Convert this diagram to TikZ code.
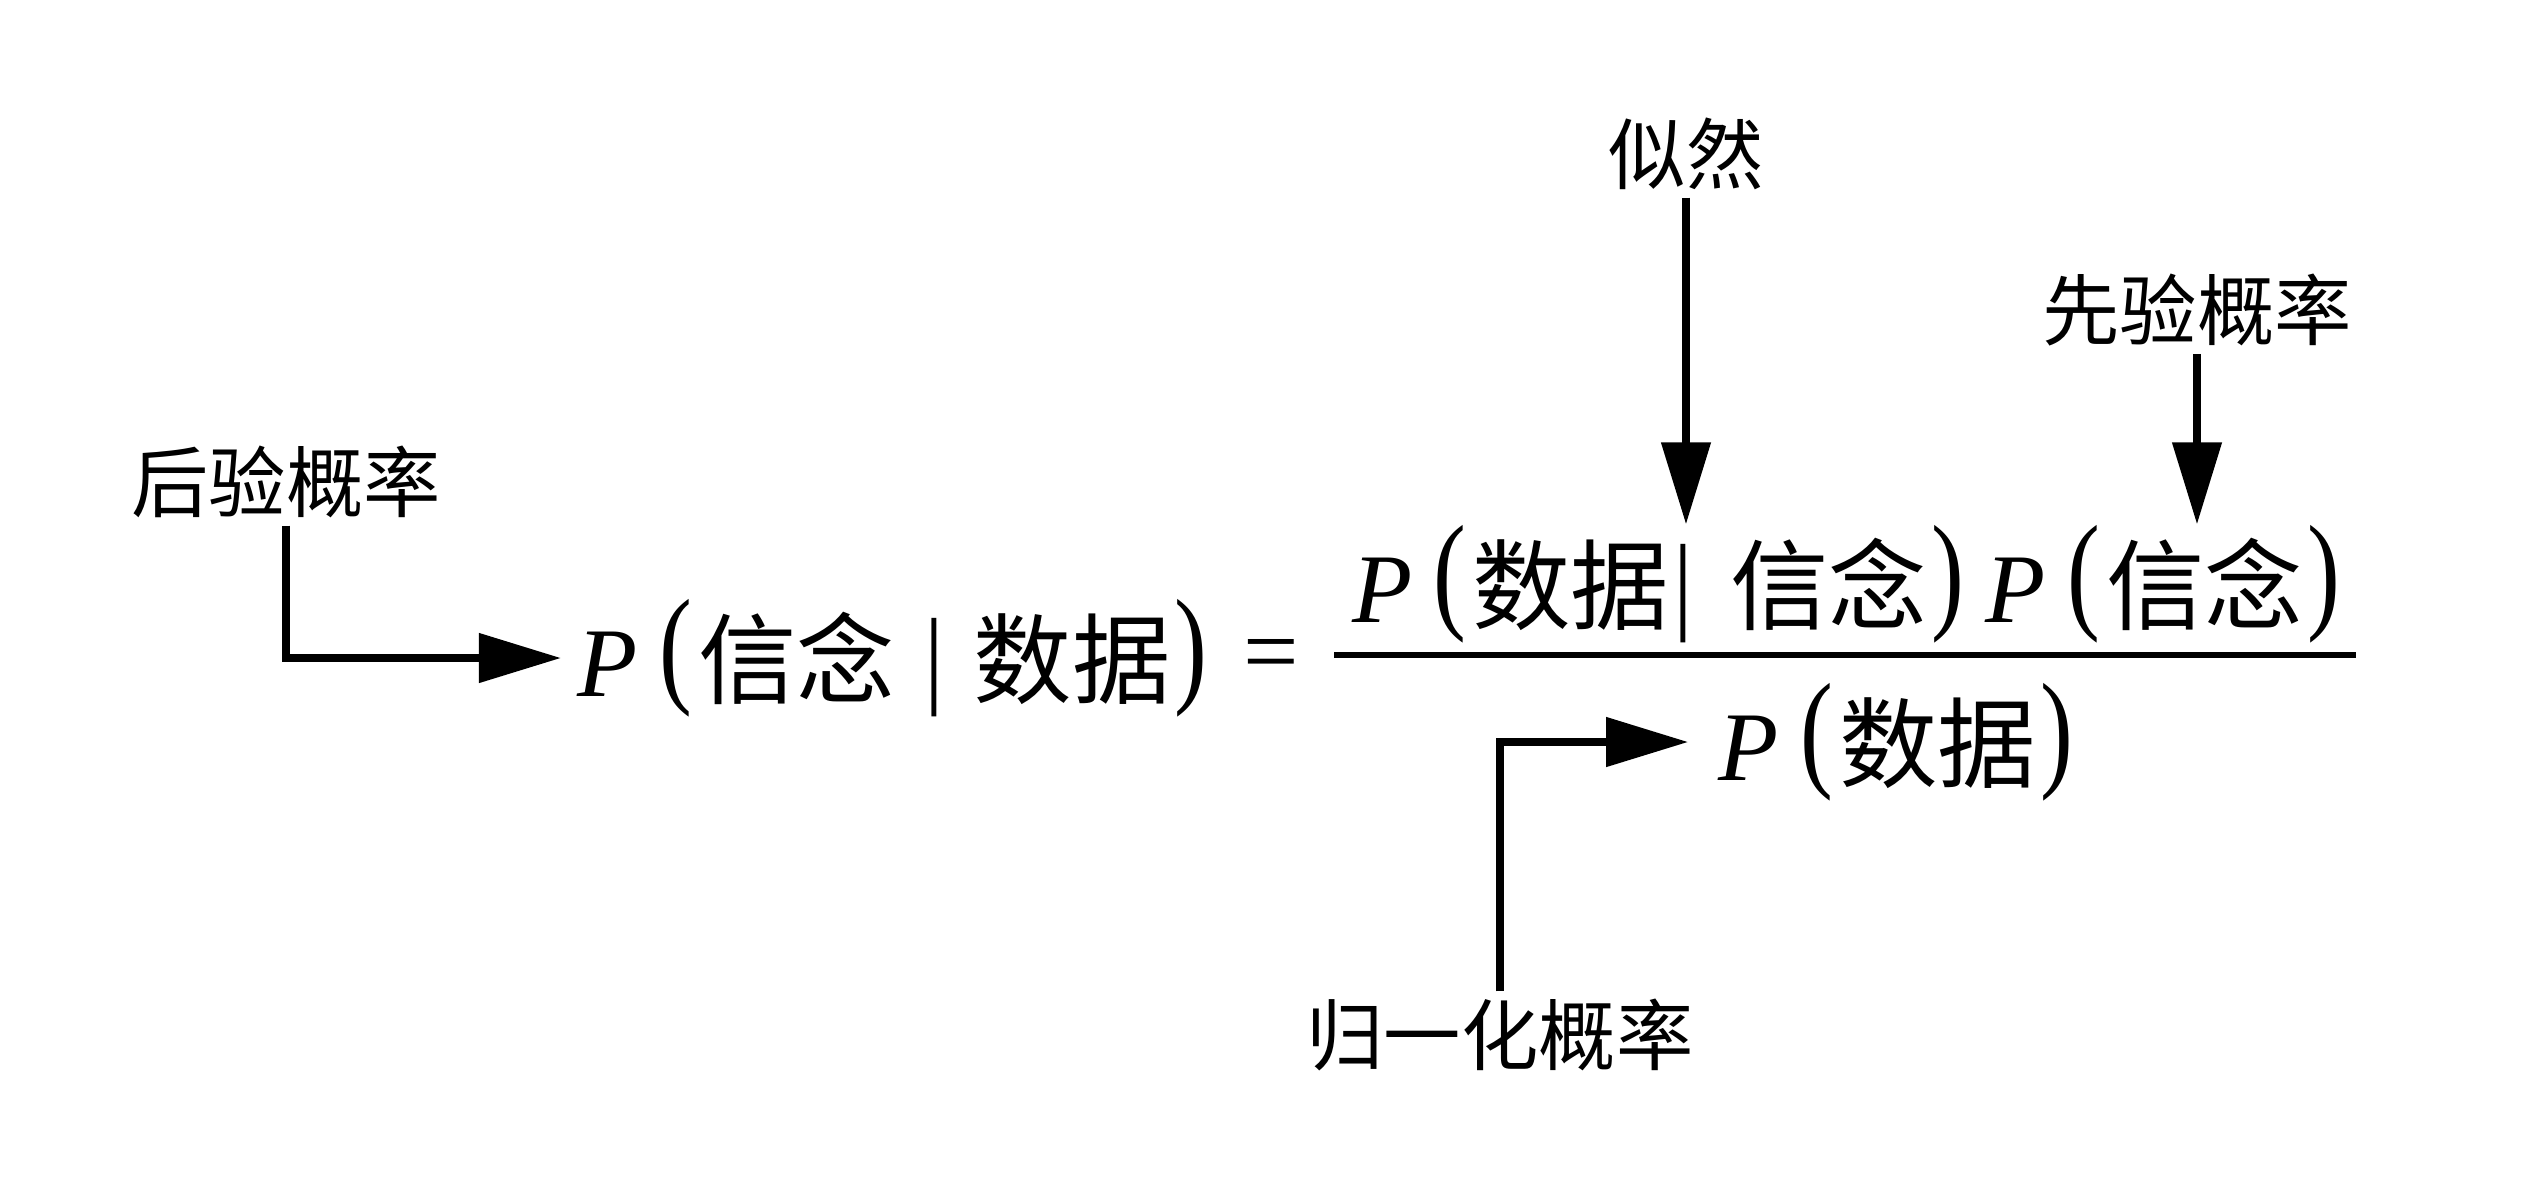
\documentclass[tikz,border=0pt]{standalone}
\usepackage{fontspec}
\usepackage{graphicx}
\setmainfont{Liberation Serif}
\newfontfamily\cjk{Noto Sans CJK SC}
\usetikzlibrary{arrows.meta}
\newcommand{\zh}[1]{{\cjk #1}}
\newcommand{\myP}{\textit{P}\hspace{0.22em}}
\newcommand{\mybar}{\hspace{0.3em}\raisebox{0.03em}{\scalebox{1}[1.1]{|}}\hspace{0.3em}}
\newcommand{\lp}{\raisebox{0.07em}{\scalebox{1}[1.32]{(}}\hspace{0.06em}}
\newcommand{\rp}{\hspace{0.04em}\raisebox{0.07em}{\scalebox{1}[1.32]{)}}}
\tikzset{
  lbl/.style={font=\cjk\fontsize{22}{26}\selectfont, inner sep=2pt},
  fml/.style={font=\fontsize{28}{32}\selectfont, inner sep=0pt},
  arr/.style={line width=2.2pt, -{Triangle[length=0.82cm,width=0.48cm]}},
  fracbar/.style={line width=1.6pt}
}
\begin{document}
\begin{tikzpicture}[x=0.01cm,y=-0.01cm]
\useasboundingbox[fill=white] (0,0) rectangle (2544,1196);
% labels
\node[lbl] (post) at (286,482) {后验概率};
\node[lbl] (lik) at (1686,154) {似然};
\node[lbl] (prior) at (2197,310) {先验概率};
\node[lbl] (norm) at (1500,1035) {归一化概率};
% formula
\node[fml, anchor=west] (lhs) at (577,658) {\myP\lp\zh{信念}\mybar\zh{数据}\rp};
\node[fml] (eq) at (1271,662) {=};
\coordinate (barL) at (1334,655);
\coordinate (barR) at (2356,655);
\draw[fracbar] (barL) -- (barR);
\node[fml] (num) at (1846,584) {\myP\lp\zh{数据}\hspace{0.04em}\raisebox{0.03em}{\scalebox{1}[1.1]{|}}\hspace{0.38em}\zh{信念}\rp\hspace{0.22em}\myP\lp\zh{信念}\rp};
\node[fml] (den) at (1896,742) {\myP\lp\zh{数据}\rp};
% arrows
\draw[arr, shorten >=0.16cm] (post.south) |- (lhs.west);
\draw[arr] (lik.south) -- (lik.south |- num.north);
\draw[arr] (prior.south) -- (prior.south |- num.north);
\draw[arr, shorten >=0.3cm] (norm.north) |- (den.west);
\end{tikzpicture}
\end{document}
